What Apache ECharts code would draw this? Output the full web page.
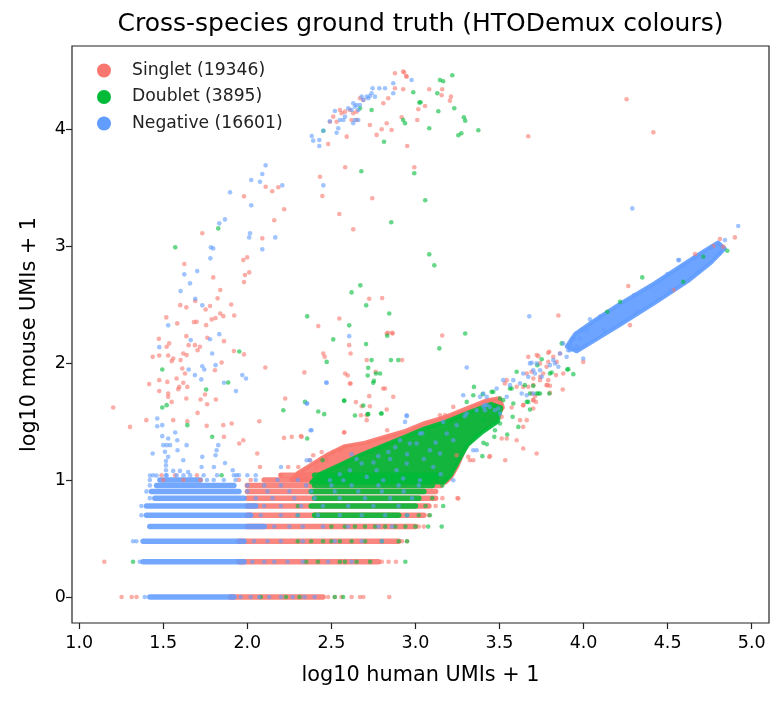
<!DOCTYPE html>
<html>
<head>
<meta charset="utf-8">
<script src="https://cdn.jsdelivr.net/npm/echarts@6/dist/echarts.min.js"></script>
<style>
  html, body { margin: 0; padding: 0; background: #fff; }
  #chart { width: 784px; height: 703px; }
</style>
</head>
<body>
<div id="chart"></div>
<script>
// log10(mouse UMIs + 1) for 0..10 mouse UMIs: the discrete rows at the bottom
const levels = [0, 0.301, 0.477, 0.602, 0.699, 0.778, 0.845, 0.903, 0.954, 1.0, 1.041];
const xTicks = [1.0, 1.5, 2.0, 2.5, 3.0, 3.5, 4.0, 4.5, 5.0];
const yTicks = [0, 1, 2, 3, 4];

const names = ["Singlet (19346)", "Doublet (3895)", "Negative (16601)"];
const colors = ["#F8766D", "#00BA38", "#619CFF"];

// dense runs of overlapping points on one row: [x from, x to, level]
const singletRuns = [
  [1.90, 2.45, levels[0]], [1.95, 2.78, levels[1]], [1.95, 2.90, levels[2]],
  [2.00, 3.00, levels[3]], [2.00, 3.05, levels[4]], [2.00, 3.08, levels[5]],
  [2.00, 3.12, levels[6]], [2.00, 3.12, levels[7]], [2.00, 3.15, levels[8]],
  [2.10, 3.15, levels[9]], [2.20, 3.15, levels[10]]
];
const doubletRuns = [
  [2.40, 2.90, levels[4]], [2.38, 3.00, levels[5]], [2.40, 3.02, levels[6]],
  [2.38, 3.05, levels[7]], [2.40, 3.10, levels[8]], [2.40, 3.12, levels[9]],
  [2.40, 3.14, levels[10]]
];
const negativeRuns = [
  [1.42, 1.92, levels[0]], [1.38, 1.98, levels[1]], [1.38, 1.98, levels[2]],
  [1.42, 2.10, levels[3]], [1.40, 2.02, levels[4]], [1.40, 2.05, levels[5]],
  [1.45, 1.98, levels[6]], [1.43, 1.95, levels[7]], [1.46, 1.92, levels[8]],
  [1.48, 1.72, levels[9]]
];

// outlines of the solid-looking crowds
const singletCloud = [[2.26,1.0],[2.30,1.06],[2.38,1.13],[2.48,1.22],[2.58,1.29],[2.70,1.32],[2.82,1.37],[2.94,1.42],[3.06,1.49],[3.18,1.54],[3.30,1.61],[3.42,1.68],[3.50,1.70],[3.52,1.62],[3.46,1.50],[3.36,1.39],[3.29,1.26],[3.25,1.12],[3.21,1.02],[3.18,0.98]];
const doubletCloud = [[2.38,0.98],[2.43,1.05],[2.55,1.13],[2.68,1.22],[2.80,1.29],[2.92,1.36],[3.05,1.44],[3.18,1.50],[3.32,1.58],[3.45,1.65],[3.51,1.62],[3.49,1.50],[3.40,1.41],[3.31,1.30],[3.26,1.17],[3.21,1.04],[3.17,0.98]];
const negativeCloud = [[3.90,2.14],[3.95,2.25],[4.05,2.35],[4.22,2.51],[4.42,2.68],[4.60,2.85],[4.72,2.96],[4.80,3.03],[4.84,2.98],[4.76,2.86],[4.63,2.71],[4.42,2.51],[4.22,2.33],[4.04,2.17],[3.96,2.10]];

// single points
const singletPts = [
  [1.252,0],[1.312,0],[1.341,0],[2.48,0],[2.52,0],[2.56,0],[2.62,0],[2.67,0],[2.69,0],[2.844,0],
  [1.149,0.301],[2.80,0.301],[2.84,0.301],[2.884,0.301],[2.92,0.477],[2.95,0.477],
  [3.02,0.602],[3.05,0.602],[3.08,0.699],[3.12,0.778],[3.16,0.845],[3.25,0.845],
  [1.50,1.0],[1.62,1.0],[1.72,1.0],[1.95,1.0],[2.02,1.0],[1.49,1.041],[1.57,1.041],[1.70,1.041],[2.20,1.041],[2.30,1.041],
  [2.481,3.872],[2.491,4.063],[2.511,4.106],[2.531,4.063],[2.551,4.163],[2.561,4.135],[2.581,4.149],[2.591,3.935],
  [2.610,4.163],[2.620,4.078],[2.630,4.135],[2.650,4.149],[2.650,4.078],[2.670,4.263],[2.690,4.249],[2.729,4.035],
  [2.769,3.950],[2.799,3.998],[2.809,4.221],[2.829,4.050],[2.838,4.263],[2.858,3.992],[2.878,4.349],[2.878,4.477],
  [2.927,4.340],[2.927,4.491],[2.948,4.448],[2.951,3.855],[2.918,4.101],[3.017,4.169],[3.011,4.078],
  [2.932,4.486],[2.944,4.454],[3.082,4.340],[3.159,4.340],[3.156,4.289],[3.211,4.277],[3.205,4.243],[3.057,4.197],
  [2.993,3.673],[3.671,3.938],[4.256,4.255],[4.415,3.972],[3.159,2.236],[3.850,2.407],
  [1.732,3.109],[1.980,3.425],[2.109,3.507],[2.148,3.468],[2.184,3.503],[2.219,3.314],[2.160,3.220],[2.089,3.066],
  [1.976,2.880],[1.999,2.903],[2.011,2.775],[1.986,2.752],[1.980,2.692],[1.625,2.846],[1.797,2.732],[1.839,2.624],
  [1.823,2.553],[1.778,2.487],[1.752,2.458],[1.601,2.495],[1.637,2.476],[1.690,2.530],[1.904,2.501],[1.922,2.407],
  [1.857,2.401],[1.811,2.384],[1.839,2.424],[1.788,2.373],[1.755,2.324],[1.698,2.352],[1.682,2.350],[1.518,2.390],
  [1.583,2.339],[1.637,2.230],[1.474,2.207],[1.762,2.216],[2.432,3.593],[2.446,3.428],[2.582,3.673],[2.743,3.408],
  [2.547,3.274],[2.630,3.143],[2.725,2.549],[2.802,2.555],[2.547,2.381],[2.422,2.316],[2.829,2.253],[2.864,2.253],
  [1.520,2.139],[1.535,2.168],[1.476,2.065],[1.437,2.053],[1.529,2.065],[1.559,2.039],[1.550,2.016],[1.603,2.025],
  [1.619,2.082],[1.639,2.068],[1.651,2.153],[1.688,2.153],[1.704,2.110],[1.718,2.139],[1.861,2.187],[1.920,2.102],
  [1.980,2.074],[1.847,2.005],[1.807,1.939],[1.613,1.954],[1.629,1.911],[1.579,1.868],[1.524,1.839],[1.476,1.854],
  [1.416,1.820],[1.476,1.760],[1.529,1.740],[1.595,1.796],[1.619,1.831],[1.643,1.796],[1.589,1.777],[1.637,1.697],
  [1.550,1.668],[1.529,1.711],[1.202,1.620],[1.302,1.454],[1.399,1.512],[1.559,1.512],[1.643,1.503],[1.704,1.574],
  [1.722,1.689],[1.748,1.731],[1.761,1.648],[1.813,1.689],[1.758,1.463],[1.857,1.469],[1.907,1.483],[1.861,1.369],
  [1.976,1.340],[1.952,1.312],[2.071,1.503],[2.107,1.962],[2.225,1.697],[2.339,1.920],[2.452,2.082],[2.460,2.053],
  [2.606,2.153],[2.614,2.082],[2.582,1.911],[2.597,1.894],[2.614,1.825],[2.646,1.666],[2.710,2.025],[2.710,1.554],
  [2.676,1.554],[2.763,1.925],[2.808,1.783],[2.829,1.603],[2.868,1.711],[2.921,2.025],[2.837,2.258],[2.862,2.258],
  [2.576,1.409],[2.319,1.375],[2.264,1.369],[2.218,1.360],[2.059,1.227],[2.075,1.112],[2.243,1.112],[2.303,1.112],
  [2.412,1.112],[2.372,1.169],[2.472,1.169],[2.442,1.184],
  [4.266,2.658],[4.811,3.060],[4.900,3.074],[4.663,2.931],[4.534,2.624],[4.276,2.324],[3.998,2.010],[3.820,2.053],
  [3.671,2.053],[3.796,2.096],[3.879,1.911],[3.790,1.854],[3.836,1.897],[3.741,1.882],[3.876,1.774],[3.800,1.805],
  [3.691,1.925],[3.711,1.717],[3.641,1.796],[4.831,2.994],[4.772,3.000],
  [3.721,2.068],[3.790,2.087],[3.760,1.911],[3.701,1.612],[3.717,1.668],[3.662,1.512],[3.641,1.454],[3.602,1.340],
  [3.721,1.227],[3.641,1.269],[3.534,1.169],[3.439,1.198],[3.324,1.169],[3.255,0.842],[3.543,1.355],[3.225,1.625],
  [3.176,1.554],[3.146,1.554],[3.532,1.826],[3.701,1.868],[3.780,1.968],[3.840,2.010],
  [2.610,1.825],[2.819,1.783],[2.725,1.717],[2.680,1.631],[2.729,1.631],[2.710,1.512],[2.576,1.406],[2.832,1.426],
  [3.245,1.212],[3.314,1.198],[3.344,1.169],[3.443,1.204],[3.780,1.811],[3.701,1.683],[3.641,1.640],[3.513,1.355],
  [2.323,1.369],[2.511,1.240],[2.551,1.255],[2.442,1.240],[2.392,1.212],
  [3.731,2.059],[3.860,2.082],[3.741,1.854],[3.784,1.811],[3.800,1.745],[3.701,1.811],[3.671,1.797],[3.662,1.911],
  [3.543,1.854],[3.602,1.797],[3.691,1.740],[3.701,1.683],[3.641,1.640],[3.572,1.620],[3.622,1.512],[3.513,1.540],
  [3.790,2.010],[3.741,1.997]
];
const doubletPts = [
  [2.08,0],[2.23,0],[2.31,0],[2.52,0],[2.57,0],
  [1.32,0.301],[2.35,0.301],[2.42,0.301],[2.55,0.301],[2.58,0.301],[2.65,0.301],[2.73,0.301],[2.94,0.301],
  [2.30,0.477],[2.38,0.477],[2.45,0.477],[2.50,0.477],[2.55,0.477],[2.62,0.477],[2.70,0.477],[2.80,0.477],[2.90,0.477],[2.95,0.477],
  [2.50,0.602],[2.58,0.602],[2.64,0.602],[2.70,0.602],[2.76,0.602],[2.82,0.602],[2.88,0.602],[2.94,0.602],[3.00,0.602],[3.076,0.602],[3.156,0.602],
  [2.30,0.699],[2.95,0.699],[3.02,0.699],[3.086,0.699],[2.30,0.778],[3.06,0.778],[3.165,0.778],[3.10,0.845],[3.16,0.954],[1.847,1.041],
  [2.452,3.986],[2.670,4.178],[2.739,4.163],[2.813,3.892],[2.938,4.050],[2.927,4.078],[2.987,4.315],[3.023,4.226],
  [3.146,4.420],[3.165,4.409],[3.219,4.460],[3.031,4.229],[3.130,4.306],[3.136,4.152],[3.231,4.178],[3.082,4.007],
  [3.288,4.101],[3.296,4.072],[3.255,3.947],[3.273,3.964],[3.374,3.990],[2.993,3.622],[3.058,3.391],[3.082,2.929],
  [3.112,2.835],[3.296,2.253],[4.349,2.732],
  [1.571,2.989],[1.827,3.151],[2.678,3.639],[2.856,3.203],[2.620,2.604],[2.672,2.664],[2.707,2.493],[2.844,2.424],
  [2.356,2.399],[2.606,2.322],[2.511,2.202],[2.832,2.233],
  [1.494,1.945],[1.494,1.620],[1.520,1.640],[1.643,1.469],[1.755,1.774],[1.886,1.834],[1.952,2.099],[1.791,1.369],
  [2.472,2.010],[2.706,2.162],[2.739,2.025],[2.854,2.025],[2.898,2.025],[2.719,1.959],[2.765,1.911],[2.789,1.911],
  [2.716,1.894],[2.753,1.848],[2.749,1.831],[2.576,1.680],[2.690,1.637],[2.640,1.552],[2.716,1.563],[2.795,1.569],
  [2.214,1.597],[2.422,1.586],[2.457,1.563],[2.356,1.355],
  [4.855,2.960],[4.217,2.524],[3.870,2.168],[3.751,2.033],[3.810,1.919],[3.909,1.948],[3.939,1.905],[3.741,1.740],
  [3.796,1.740],[3.701,1.805],[3.651,1.811],[4.712,2.909],[4.141,2.438],[4.593,2.695],
  [3.142,2.125],[3.602,1.925],[3.612,1.454],[3.546,1.389],[3.469,1.369],[3.424,1.306],[3.398,1.204],[3.360,1.383],
  [3.725,1.982],[3.800,1.911],[3.681,1.740],[3.662,1.668],[3.578,1.540],[3.503,1.483],[3.344,1.725],[3.400,1.734],
  [3.453,1.754],[3.305,1.668],
  [2.343,1.668],[2.576,1.677],[2.719,1.563],[2.799,1.569],[2.448,1.169],[3.473,1.426],[3.404,1.318],[3.348,1.796],
  [3.562,1.783],[3.671,1.668],[3.731,1.740],
  [3.463,1.754],[3.503,1.697],[3.572,1.783],[3.721,1.740],[3.903,1.945],[3.681,1.603],[3.582,1.654],[3.522,1.683],
  [3.364,1.597],[3.404,1.512],[3.483,1.569]
];
const negativePts = [
  [1.39,0],[1.96,0],[2.02,0],[2.07,0],[2.13,0],[2.20,0],[2.27,0],[2.34,0],[2.40,0],
  [1.36,0.301],[2.03,0.301],[2.10,0.301],[2.16,0.301],[2.24,0.301],[2.33,0.301],[2.48,0.301],[2.62,0.301],
  [1.32,0.477],[1.34,0.477],[2.04,0.477],[2.12,0.477],[2.20,0.477],[2.33,0.477],[2.52,0.477],[2.68,0.477],[2.80,0.477],
  [2.16,0.602],[2.25,0.602],[2.33,0.602],[2.45,0.602],[2.60,0.602],[2.78,0.602],[2.86,0.602],
  [1.37,0.699],[2.08,0.699],[2.20,0.699],[2.30,0.699],[2.42,0.699],[2.55,0.699],[2.68,0.699],[2.82,0.699],[2.95,0.699],
  [1.37,0.778],[2.10,0.778],[2.20,0.778],[2.32,0.778],[2.45,0.778],[2.60,0.778],[2.75,0.778],[2.90,0.778],
  [1.42,0.845],[2.05,0.845],[2.15,0.845],[2.28,0.845],[2.40,0.845],[2.55,0.845],[2.70,0.845],[2.85,0.845],[2.98,0.845],
  [1.40,0.903],[2.00,0.903],[2.12,0.903],[2.25,0.903],[2.38,0.903],[2.52,0.903],[2.66,0.903],[2.80,0.903],[2.93,0.903],
  [1.42,0.954],[2.00,0.954],[2.10,0.954],[2.20,0.954],[2.35,0.954],[2.50,0.954],[2.62,0.954],[2.78,0.954],[2.90,0.954],[3.02,0.954],
  [1.42,1.0],[1.76,1.0],[1.80,1.0],[1.86,1.0],[1.93,1.0],[2.05,1.0],[2.18,1.0],[2.30,1.0],
  [1.44,1.041],[1.52,1.041],[1.58,1.041],[1.62,1.041],[1.66,1.041],[1.74,1.041],[1.82,1.041],[1.92,1.041],[1.95,1.041],[2.00,1.041],[2.05,1.041],
  [2.383,3.941],[2.392,3.901],[2.428,3.907],[2.428,3.855],[2.452,3.986],[2.491,4.067],[2.521,4.155],[2.531,3.969],
  [2.541,4.007],[2.551,4.078],[2.571,4.078],[2.581,4.106],[2.600,4.178],[2.620,4.163],[2.630,4.221],[2.640,4.192],
  [2.650,4.206],[2.660,4.163],[2.670,4.206],[2.680,4.277],[2.690,4.249],[2.710,4.277],[2.719,4.263],[2.729,4.283],
  [2.739,4.306],[2.745,4.349],[2.759,4.277],[2.785,4.349],[2.819,4.349],[2.868,4.392],[2.868,4.306],[2.977,4.420],
  [2.640,4.078],[2.660,4.078],[2.630,4.050],
  [2.109,3.690],[2.089,3.616],[2.023,3.564],[2.075,3.550],[2.208,3.519],[2.452,3.519],[1.897,3.459],[2.023,3.348],
  [1.867,3.228],[1.833,3.194],[2.016,3.109],[2.011,3.074],[2.166,3.074],[2.089,2.972],[1.783,2.989],[1.797,2.980],
  [1.780,2.895],[1.702,2.786],[1.625,2.758],[1.659,2.681],[1.603,2.615],[1.690,2.549],[1.732,2.493],[1.529,2.322],
  [1.833,2.247],[2.606,2.230],[4.290,3.322],[3.677,2.399],
  [1.476,2.136],[1.663,2.196],[1.778,2.204],[1.791,2.082],[1.811,1.982],[1.732,1.973],[1.744,1.945],[1.688,1.897],
  [1.726,1.860],[1.861,1.831],[1.970,1.897],[1.992,1.868],[1.932,1.760],[1.651,1.945],[2.469,1.834],[2.356,1.654],
  [2.376,1.426],[1.464,1.526],[1.464,1.460],[1.494,1.469],[1.494,1.375],[1.529,1.355],[1.571,1.406],[1.583,1.340],
  [1.500,1.298],[1.520,1.298],[1.540,1.298],[1.437,1.227],[1.510,1.241],[1.529,1.198],[1.639,1.298],[1.585,1.255],
  [1.619,1.169],[1.732,1.198],[1.811,1.212],[1.827,1.298],[1.817,1.255],[1.867,1.146],[1.728,1.112],[1.801,1.112],
  [1.913,1.084],[1.936,1.041],[2.200,1.112],[2.353,1.169],[1.516,1.163],[1.516,1.125],[1.516,1.084],[1.516,1.041],
  [1.559,1.078],[1.421,1.038],[1.599,1.078],[1.648,1.069],[1.460,1.038],
  [4.920,3.171],[4.841,3.051],[4.811,2.938],[4.563,2.880],[4.569,2.880],[4.038,2.373],[3.989,2.281],[3.998,2.039],
  [3.959,2.139],[3.909,2.110],[3.860,2.082],[3.820,2.025],[3.899,2.053],[3.850,1.968],[3.721,1.997],[3.671,1.882],
  [3.641,1.911],[3.622,1.826],[3.701,1.740],[3.662,1.725],[3.919,2.153],[3.939,2.210],
  [3.93,2.20],[4.10,2.40],[4.30,2.58],[4.50,2.76],[4.66,2.90],[4.76,2.99],[4.12,2.28],[4.32,2.44],[4.52,2.62],[4.68,2.78],
  [3.305,1.962],[3.681,1.997],[3.701,1.939],[3.751,1.882],[3.522,1.854],[3.483,1.783],[3.424,1.711],[3.404,1.625],
  [3.443,1.625],[3.364,1.597],[3.305,1.569],[3.225,0.998],[3.344,1.255],[3.294,1.546],[3.245,1.469],[3.027,1.398],
  [2.948,1.546],[2.938,1.497],
  [2.610,1.084],[2.680,1.141],[2.779,1.204],[2.839,1.240],[2.908,1.340],[2.967,1.312],[3.007,1.312],[3.086,1.255],
  [3.146,1.227],[3.186,1.398],[3.225,1.340],[2.948,1.141],[2.888,1.084],[2.769,1.084],[2.710,1.027],[3.106,1.112],
  [3.027,0.998],[2.927,1.013],[2.808,0.998],[2.571,0.998],[2.491,0.998],[2.372,1.169],[2.382,1.426],[2.353,1.654],
  [2.472,1.831],[2.948,1.554],[3.165,1.497],[3.284,1.725],[3.384,1.711],[3.413,1.640],[3.473,1.597],[3.503,1.569],
  [3.364,1.255],[2.65,1.18],[2.75,1.15],[2.85,1.18],[2.95,1.22],[3.05,1.18],[3.12,1.32],[2.88,1.28],[3.04,1.40],
  [3.15,1.05],[2.55,1.05],[2.62,1.22],
  [3.979,2.210],[4.018,2.281],[3.879,2.168],[3.919,2.110],[3.830,1.997],[3.800,1.982],[3.711,1.911],[3.741,1.939],
  [3.691,2.002],[3.582,1.854],[3.632,1.740],[3.543,1.711],[3.404,1.740],[3.424,1.640],[3.414,1.597],[3.562,1.811],
  [3.493,1.612]
];

const FONT = "DejaVu Sans";
const ALPHA = 0.6;
const DOT = 4.6;

function runSeries(runs, color) {
  return {
    type: "custom",
    name: "runs",
    silent: true,
    encode: { x: [0, 1], y: 2 },
    data: runs,
    renderItem: function (params, api) {
      const a = api.coord([api.value(0), api.value(2)]);
      const b = api.coord([api.value(1), api.value(2)]);
      return {
        type: "line",
        shape: { x1: a[0], y1: a[1], x2: b[0], y2: b[1] },
        style: { stroke: color, lineWidth: 5.5, lineCap: "round", opacity: 0.88 }
      };
    }
  };
}

function cloudSeries(poly, color) {
  return {
    type: "custom",
    name: "cloud",
    silent: true,
    encode: { x: 0, y: 1 },
    data: [poly[0]],
    renderItem: function (params, api) {
      const pts = poly.map(function (p) { return api.coord(p); });
      return {
        type: "polygon",
        shape: { points: pts },
        style: { fill: color, stroke: color, lineWidth: 4, lineJoin: "round", opacity: 0.92 }
      };
    }
  };
}

function dotSeries(name, pts, color) {
  return {
    type: "scatter",
    name: name,
    data: pts,
    symbol: "circle",
    symbolSize: DOT,
    itemStyle: { color: color, opacity: ALPHA },
    emphasis: { disabled: true }
  };
}

const chart = echarts.init(document.getElementById("chart"), null, { renderer: "canvas" });

const option = {
  animation: false,
  backgroundColor: "#fff",
  textStyle: { fontFamily: FONT },
  title: {
    text: "Cross-species ground truth (HTODemux colours)",
    left: 420.5,
    top: 12,
    padding: 0,
    textAlign: "center",
    textStyle: { fontFamily: FONT, fontSize: 25, fontWeight: "normal", color: "#000" }
  },
  legend: {
    orient: "vertical",
    left: 97,
    top: 62,
    itemWidth: 46,
    itemHeight: 14,
    itemGap: 9.5,
    icon: "circle",
    selectedMode: false,
    padding: 0,
    textStyle: { fontFamily: FONT, fontSize: 17.2, color: "#222", lineHeight: 14 },
    data: names.map(function (n, i) {
      return { name: n, itemStyle: { color: colors[i], opacity: 1 } };
    })
  },
  grid: {
    left: 72, right: 15, top: 46, bottom: 80,
    show: true, borderColor: "#222", borderWidth: 1.2, backgroundColor: "transparent"
  },
  xAxis: {
    type: "value",
    min: 0.957,
    max: 5.103,
    name: "log10 human UMIs + 1",
    nameLocation: "middle",
    nameGap: 42,
    nameTextStyle: { fontFamily: FONT, fontSize: 20.8, color: "#000" },
    axisLine: { show: false, onZero: false },
    splitLine: { show: false },
    axisTick: { show: true, length: 6, lineStyle: { color: "#222", width: 1.2 }, customValues: xTicks },
    axisLabel: {
      customValues: xTicks,
      margin: 11,
      fontFamily: FONT, fontSize: 17.5, color: "#000",
      formatter: function (v) { return v.toFixed(1); }
    }
  },
  yAxis: {
    type: "value",
    min: -0.222,
    max: 4.71,
    name: "log10 mouse UMIs + 1",
    nameLocation: "middle",
    nameGap: 32,
    nameTextStyle: { fontFamily: FONT, fontSize: 20.8, color: "#000" },
    axisLine: { show: false, onZero: false },
    splitLine: { show: false },
    axisTick: { show: true, length: 6, lineStyle: { color: "#222", width: 1.2 }, customValues: yTicks },
    axisLabel: {
      customValues: yTicks,
      margin: 6,
      fontFamily: FONT, fontSize: 17.5, color: "#000",
      formatter: function (v) { return String(v); }
    }
  },
  series: [
    cloudSeries(singletCloud, colors[0]),
    runSeries(singletRuns, colors[0]),
    dotSeries(names[0], singletPts, colors[0]),
    cloudSeries(doubletCloud, colors[1]),
    runSeries(doubletRuns, colors[1]),
    dotSeries(names[1], doubletPts, colors[1]),
    cloudSeries(negativeCloud, colors[2]),
    runSeries(negativeRuns, colors[2]),
    dotSeries(names[2], negativePts, colors[2])
  ]
};

chart.setOption(option);
</script>
</body>
</html>
